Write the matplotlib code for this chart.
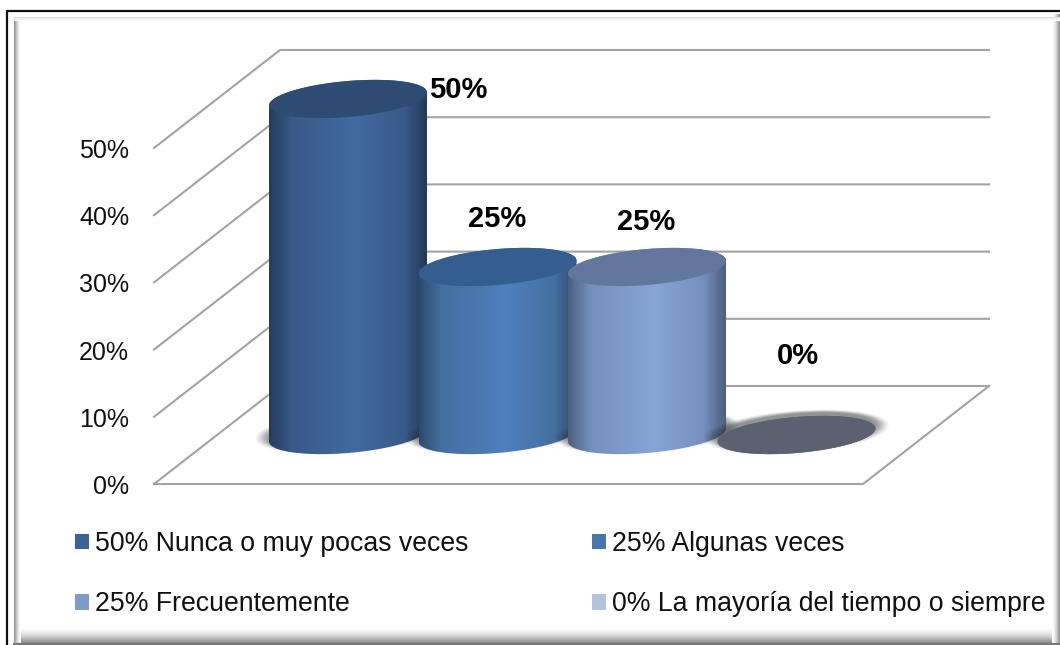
import numpy as np
import matplotlib
matplotlib.use("Agg")
import matplotlib.pyplot as plt
from matplotlib.colors import LinearSegmentedColormap
from matplotlib.patches import Patch, Polygon

plt.rcParams['font.family'] = ['Liberation Sans', 'DejaVu Sans']

# data
values = [50, 25, 25, 0]
value_labels = ['50%', '25%', '25%', '0%']
legend_labels = ['50% Nunca o muy pocas veces', '25% Algunas veces',
                 '25% Frecuentemente', '0% La mayoría del tiempo o siempre']
y_ticks = [0, 10, 20, 30, 40, 50]

# styles
legend_colors = ['#3b6295', '#4a76ae', '#7f9ac8', '#b3c2de']
top_colors = ['#2d4b73', '#335e8d', '#61779c', '#5a6170']
body_colors = [['#263c5a', '#38598a', '#436a9e', '#38598a', '#263a55'],
               ['#2c4a70', '#44709f', '#4f80bd', '#44709f', '#2e4c72'],
               ['#4d5f7e', '#7590be', '#86a5d5', '#7590be', '#4d607f'],
               ['#5a6170', '#5a6170', '#5a6170', '#5a6170', '#5a6170']]
label_offsets = [(110, 9), (0, 48), (-1, 45), (1, 79)]
grid_color = '#a3a3a3'

W, H = 1060, 645
PX_X = 149.5   # pixels per category
PX_Y = 6.72    # pixels per percent
X0, Y0 = 348, 435  # pixel position of first category, 0% in the bar plane

fig = plt.figure(figsize=(W / 100, H / 100), dpi=100)

# frame with bevel
bg = fig.add_axes([0, 0, 1, 1])
bg.axis('off')
grey = LinearSegmentedColormap.from_list('g', ['#ffffff', '#8c8c8c'])
ramp = np.linspace(0, 1, 32) ** 1.6
bg.imshow(ramp[:, None], extent=(14, W, 643, 627), cmap=grey, vmin=0, vmax=1, aspect='auto')
bg.imshow(ramp[None, :], extent=(1052, W, 643, 14), cmap=grey, vmin=0, vmax=1, aspect='auto')
bg.imshow(ramp[::-1][None, :], extent=(14, 21, 643, 18), cmap=grey, vmin=0, vmax=1, aspect='auto')
bg.imshow(ramp[::-1][:, None] * 0.35, extent=(14, W, 21, 17), cmap=grey, vmin=0, vmax=1, aspect='auto')
bg.plot([7, 7, W], [H, 11, 11], color='#111111', lw=1.6, solid_joinstyle='miter')
bg.plot([W, 14], [644, 644], color='#777777', lw=1.5)
bg.set_xlim(0, W)
bg.set_ylim(H, 0)

# chart, in category and percent units
ax = fig.add_axes([0, 0, 1, 1])
ax.axis('off')
ax.patch.set_alpha(0)

depth_x = 63 / PX_X
depth_y = 49 / PX_Y
left = (217 - X0) / PX_X
right = (926 - X0) / PX_X

for v in y_ticks:
    ax.plot([left - depth_x, left + depth_x, right + depth_x],
            [v - depth_y, v + depth_y, v + depth_y],
            color=grid_color, lw=1.5, zorder=1, solid_joinstyle='miter')
    ax.text(left - depth_x - 25 / PX_X, v - depth_y - 3 / PX_Y, f'{v}%', ha='right', va='center',
            fontsize=18, color='#111111')
ax.plot([left - depth_x, right - depth_x, right + depth_x],
        [-depth_y, -depth_y, depth_y], color=grid_color, lw=1.5, zorder=1,
        solid_joinstyle='miter')

a = 79 / PX_X
b = 18 / PX_Y
k = 6.5 / PX_Y


def ellipse(cx, cy, t, sx=1.0):
    return np.column_stack([cx + sx * a * np.cos(t),
                            cy + sx * b * np.sin(t) + k * np.cos(t)])


t_all = np.linspace(0, 2 * np.pi, 160)
t_low = np.linspace(np.pi, 2 * np.pi, 80)
t_up = np.linspace(0, np.pi, 80)

for i, v in enumerate(values):
    z = 3 + i * 2
    # soft shadow under the foot
    for s, al in zip(np.linspace(1.17, 1.0, 9), [0.05] * 3 + [0.09] * 6):
        pts = ellipse(i, 0.5, t_all, s)
        ax.add_patch(Polygon(pts, closed=True, fc='#333333', ec='none', alpha=al, zorder=z))
    body = Polygon(np.vstack([ellipse(i, 0, t_low), ellipse(i, v, t_up)]), closed=True,
                   fc='none', ec='none', transform=ax.transData, zorder=z + 1)
    ax.add_patch(body)
    cmap = LinearSegmentedColormap.from_list(f'b{i}', list(zip([0, 0.14, 0.55, 0.86, 1], body_colors[i])))
    im = ax.imshow(np.linspace(0, 1, 200)[None, :], cmap=cmap, aspect='auto', zorder=z + 1,
                   extent=(i - a, i + a, -b - k - 1, v + b + k + 1))
    im.set_clip_path(body)
    ax.add_patch(Polygon(ellipse(i, v, t_all), closed=True, fc=top_colors[i], ec='none', zorder=z + 1.5))

for i, (v, txt) in enumerate(zip(values, value_labels)):
    ax.annotate(txt, xy=(i, v), xytext=label_offsets[i], textcoords='offset pixels',
                ha='center', va='center', fontsize=21, fontweight='bold', color='black', zorder=20)

ax.set_xlim(-X0 / PX_X, (W - X0) / PX_X)
ax.set_ylim((Y0 - H) / PX_Y, Y0 / PX_Y)

order = [0, 2, 1, 3]
handles = [Patch(fc=legend_colors[j], ec='none', label=legend_labels[j]) for j in order]
fig.legend(handles=handles, ncol=2, loc='upper left', bbox_to_anchor=(51 / W, 1 - 507 / H),
           frameon=False, fontsize=19.2, handlelength=0.52, handleheight=0.52, handletextpad=0.22,
           columnspacing=4.64, labelspacing=1.29, labelcolor='#111111')

fig.savefig('out.png', dpi=100)
